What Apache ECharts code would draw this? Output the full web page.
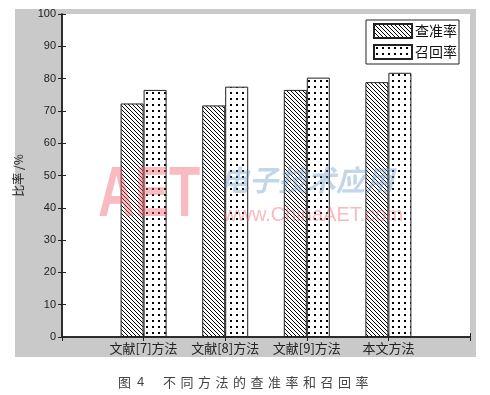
<!DOCTYPE html>
<html><head><meta charset="utf-8">
<script src="https://cdn.jsdelivr.net/npm/echarts@6/dist/echarts.min.js"></script>
<style>html,body{margin:0;padding:0;background:#fff}#c{width:490px;height:395px}</style>
</head><body><div id="c"></div>
<script>
// ---- data ----
var categories = ['文献[7]方法', '文献[8]方法', '文献[9]方法', '本文方法'];
var seriesNames = ['查准率', '召回率'];
var precision = [72.3, 71.7, 76.5, 78.9];
var recall = [76.5, 77.5, 80.3, 81.8];
var yTicks = [0, 10, 20, 30, 40, 50, 60, 70, 80, 90, 100];
var capText = '不同方法的查准率和召回率';

// ---- patterns ----
function hatch() {
  var c = document.createElement('canvas'); c.width = 4; c.height = 4;
  var g = c.getContext('2d'); g.fillStyle = '#fff'; g.fillRect(0,0,4,4);
  g.fillStyle = '#000';
  for (var i = 0; i < 4; i++) g.fillRect(i, i, 1, 1);
  return c;
}
function dots() {
  var c = document.createElement('canvas'); c.width = 6; c.height = 6;
  var g = c.getContext('2d'); g.fillStyle = '#fff'; g.fillRect(0,0,6,6);
  g.fillStyle = '#000'; g.fillRect(2, 2, 2, 2);
  return c;
}
var patterns = [{image: hatch(), repeat: 'repeat'}, {image: dots(), repeat: 'repeat'}];
var values = [precision, recall];

var chart = echarts.init(document.getElementById('c'), null, {renderer: 'canvas'});
var font = 'Liberation Sans, Arial, sans-serif';
var cjk = 'Noto Sans CJK SC, sans-serif';

var series = seriesNames.map(function (n, s) {
  return {
    name: n, type: 'bar', xAxisIndex: 0, yAxisIndex: 0,
    barWidth: 23, barGap: '0%',
    data: values[s].map(function (v, i) { return [i + 1, v]; }),
    itemStyle: {color: patterns[s], borderColor: '#222', borderWidth: 1},
    emphasis: {disabled: true}, animation: false
  };
});

var capChars = [];
for (var k = 0; k < capText.length; k++) {
  capChars.push({type: 'text', left: 163 + k * 17.5, top: 376, silent: true,
    style: {text: capText[k], font: '13px ' + cjk, fill: '#444'}});
}

chart.setOption({
  animation: false,
  backgroundColor: '#fff',
  grid: {left: 62, right: 20, top: 14, bottom: 58, show: true, backgroundColor: '#fff', borderWidth: 0},
  legend: {
    data: seriesNames, orient: 'vertical', left: 366, top: 20,
    itemWidth: 38, itemHeight: 14, itemGap: 5, padding: [3, 2, 4, 7],
    backgroundColor: '#fff', borderColor: '#222', borderWidth: 1, borderRadius: 0,
    icon: 'rect', selectedMode: false,
    textStyle: {fontFamily: cjk, fontSize: 14, color: '#111', padding: [0, 0, 0, -2]}
  },
  xAxis: [{
    type: 'value', min: 0, max: 5, interval: 1, position: 'bottom',
    axisLine: {show: true, lineStyle: {color: '#222', width: 1.5}},
    axisTick: {show: true, inside: true, length: 4, lineStyle: {color: '#222'}},
    splitLine: {show: false},
    axisLabel: {fontFamily: cjk, fontSize: 13, color: '#222', margin: 5,
      formatter: function (v) { return categories[v - 1] || ''; }}
  }, {
    type: 'value', min: 0, max: 5, interval: 1, position: 'top',
    axisLine: {show: true, lineStyle: {color: '#222', width: 1.5}},
    axisTick: {show: true, inside: true, length: 4, lineStyle: {color: '#222'}},
    splitLine: {show: false}, axisLabel: {show: false}
  }],
  yAxis: [{
    type: 'value', min: 0, max: 100, interval: 10, position: 'left',
    name: '比率 /%', nameLocation: 'middle', nameGap: 38,
    nameTextStyle: {fontFamily: cjk, fontSize: 12, color: '#222'},
    axisLine: {show: true, lineStyle: {color: '#222', width: 1.5}},
    axisTick: {show: true, inside: true, length: 4, lineStyle: {color: '#222'}},
    splitLine: {show: false},
    axisLabel: {fontFamily: font, fontSize: 11, color: '#222', margin: 6,
      formatter: function (v) { return yTicks.indexOf(v) >= 0 ? String(v) : ''; }}
  }, {
    type: 'value', min: 0, max: 100, interval: 10, position: 'right',
    axisLine: {show: true, lineStyle: {color: '#222', width: 1.5}},
    axisTick: {show: true, inside: true, length: 4, lineStyle: {color: '#222'}},
    splitLine: {show: false}, axisLabel: {show: false}
  }],
  graphic: [
    {type: 'rect', z: -100, silent: true, shape: {x: 15, y: 9, width: 461, height: 348}, style: {fill: '#c9c9c9'}},
    {type: 'text', z: 100, left: 98, top: 162, silent: true, scaleX: 0.73,
      style: {text: 'AET', font: 'bold 70px ' + font, fill: 'rgba(240,90,105,0.42)'}},
    {type: 'text', z: 100, left: 220, top: 165, silent: true,
      style: {text: '电子技术应用', font: 'bold italic 29px ' + cjk, fill: 'rgba(100,150,200,0.38)'}},
    {type: 'text', z: 100, left: 223, top: 205, silent: true,
      style: {text: 'www.ChinaAET.com', font: '20px ' + font, fill: 'rgba(240,90,105,0.42)'}},
    {type: 'text', left: 118, top: 376, silent: true, style: {text: '图', font: '13px ' + cjk, fill: '#444'}},
    {type: 'text', left: 137, top: 376, silent: true, style: {text: '4', font: '13px ' + font, fill: '#444'}}
  ].concat(capChars),
  series: series
});
</script></body></html>
